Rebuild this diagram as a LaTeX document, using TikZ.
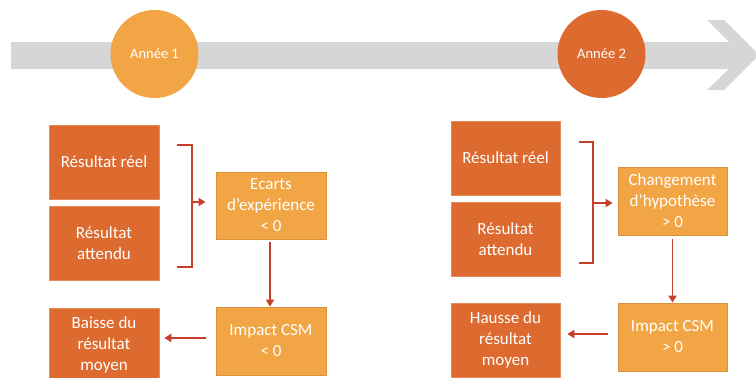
\documentclass[tikz,border=0pt]{standalone}
\usepackage{fontspec}
\setmainfont{Carlito}
\usetikzlibrary{arrows.meta}
\definecolor{darkor}{HTML}{DD6A2F}
\definecolor{darkedge}{HTML}{E58A5A}
\definecolor{lightor}{HTML}{F2A544}
\definecolor{lightedge}{HTML}{D9913C}
\definecolor{linkred}{HTML}{C53F2A}
\definecolor{bargray}{HTML}{D6D6D6}
\tikzset{
  darkbox/.style={fill=darkor, draw=darkedge, line width=0.6pt, minimum width=110pt,
    minimum height=74pt, inner sep=0pt, text=white, align=center,
    font=\fontsize{17}{21}\selectfont},
  lightbox/.style={fill=lightor, draw=lightedge, line width=0.8pt, minimum width=110pt,
    minimum height=67pt, inner sep=0pt, text=white, align=center,
    font=\fontsize{17}{21}\selectfont},
  yearbadge/.style={circle, minimum size=88pt, inner sep=0pt, text=white,
    font=\fontsize{14.5}{17}\selectfont},
  link/.style={draw=linkred, line width=1.8pt},
  linkarrow/.style={link, -{Triangle[length=7pt,width=8pt]}},
}
\begin{document}
\begin{tikzpicture}[x=1pt, y=-1pt]
\useasboundingbox (0,0) rectangle (756,378);
\begin{scope}
\clip (0,0) rectangle (756,378);
% timeline bar with its chevron head
\fill[bargray] (11,42) -- (729,42) -- (707,20) -- (724,20) -- (759,55)
  -- (724,90) -- (707,90) -- (729,69) -- (11,69) -- cycle;

% year badges
\node[yearbadge, fill=lightor] (y1) at (154.5,54) {Année 1};
\node[yearbadge, fill=darkor] (y2) at (601.5,54) {Année 2};

% year 1
\node[darkbox] (reelA) at (104,162) {Résultat réel};
\node[darkbox] (attA) at (104,243) {Résultat\\attendu};
\node[darkbox] (baisse) at (104,345) {Baisse du\\résultat\\moyen};
\node[lightbox] (ecarts) at (271,205.5) {Ecarts\\d’expérience\\< 0};
\node[lightbox, minimum height=68pt] (impA) at (271,341) {Impact CSM\\< 0};

% year 2
\node[darkbox, minimum width=109pt] (reelB) at (505.5,158) {Résultat réel};
\node[darkbox, minimum width=109pt] (attB) at (505.5,239) {Résultat\\attendu};
\node[darkbox, minimum width=109pt] (hausse) at (505.5,340) {Hausse du\\résultat\\moyen};
\node[lightbox, minimum width=109pt, minimum height=68pt] (chg) at (672.5,201) {Changement\\d’hypothèse\\> 0};
\node[lightbox, minimum width=109pt, minimum height=68pt] (impB) at (672.5,337) {Impact CSM\\> 0};

% brackets grouping the two results
\coordinate (bkAt) at (177,145);
\coordinate (bkAb) at (177,267);
\coordinate (bkA) at (192,202);
\draw[link, line width=1.6pt] (bkAt) -| (bkA) |- (bkAb);
\coordinate (bkBt) at (579,142);
\coordinate (bkBb) at (579,263);
\coordinate (bkB) at (593,203);
\draw[link, line width=1.6pt] (bkBt) -| (bkB) |- (bkBb);

% flow arrows, year 1
\draw[linkarrow, shorten >=10pt] (bkA) -- (bkA -| ecarts.west);
\draw[linkarrow, shorten <=3pt] (ecarts.south -| 270,0) -- (impA.north -| 270,0);
\draw[linkarrow, shorten <=10pt, shorten >=5pt] ([yshift=3pt]impA.west) -- ([yshift=3pt]impA.west -| baisse.east);

% flow arrows, year 2
\draw[linkarrow, shorten >=5pt] (bkB) -- (bkB -| chg.west);
\draw[linkarrow, shorten <=4pt] (chg.south) -- (impB.north);
\draw[linkarrow, shorten <=10pt, shorten >=7pt] ([yshift=3pt]impB.west) -- ([yshift=3pt]impB.west -| hausse.east);
\end{scope}
\end{tikzpicture}
\end{document}
